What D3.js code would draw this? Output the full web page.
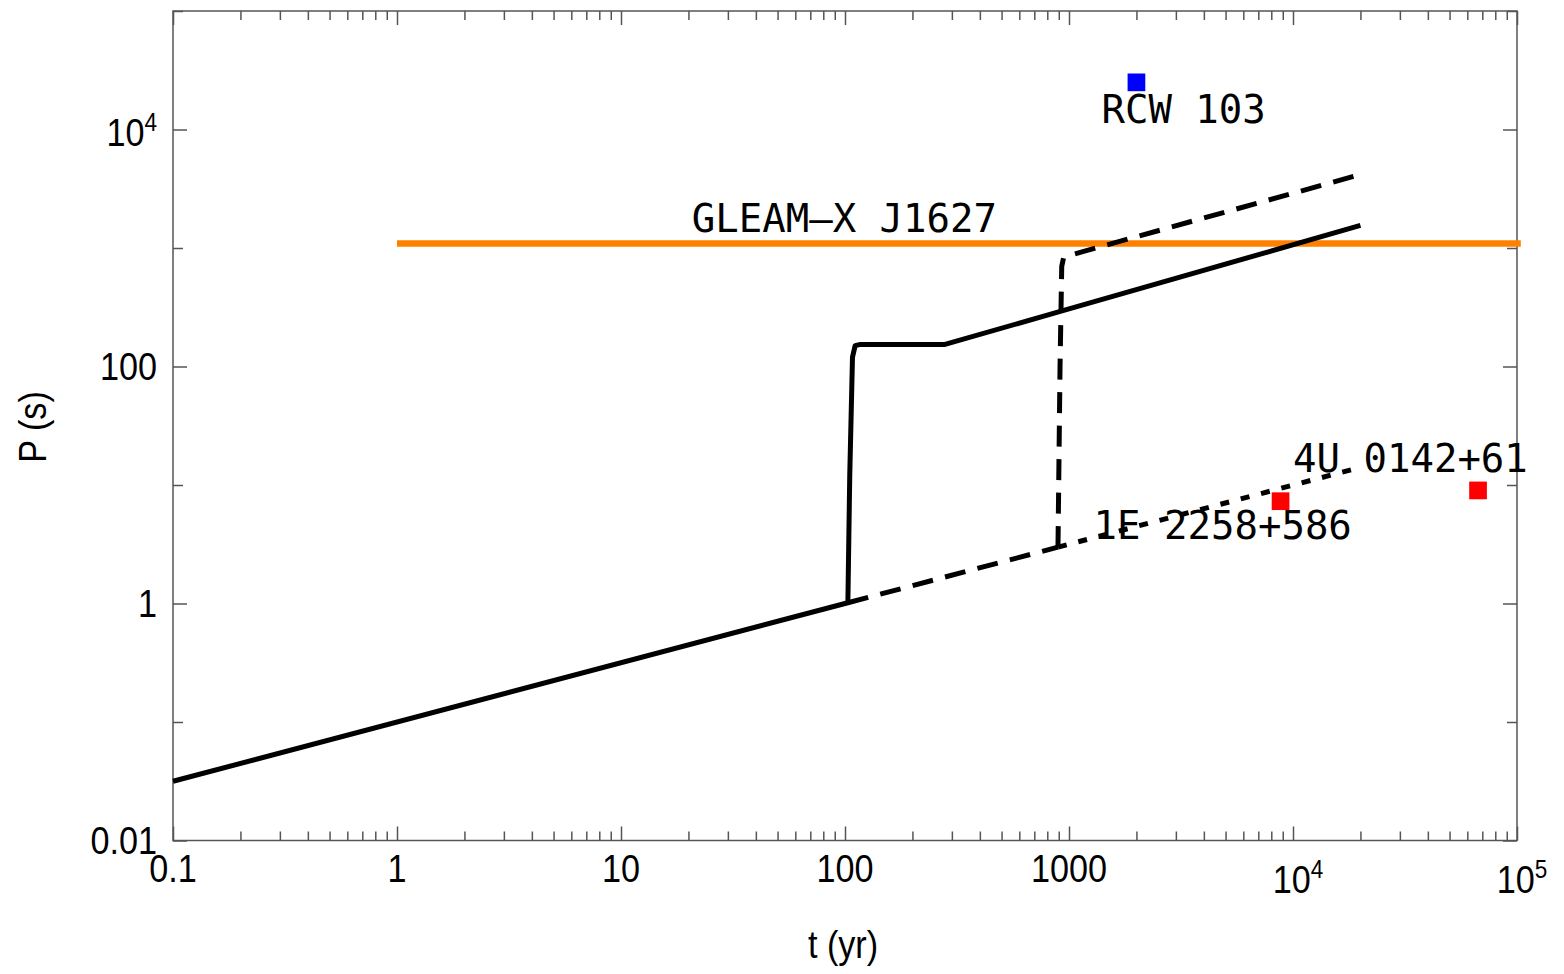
<!DOCTYPE html>
<html>
<head>
<meta charset="utf-8">
<script src="https://cdn.jsdelivr.net/npm/d3@7"></script>
<style>
  body { margin: 0; background: #fff; }
</style>
</head>
<body>
<svg id="chart" width="1564" height="974"></svg>
<script>
// Spin-period evolution tracks (t in yr, P in s)
const solidT = [0.1, 103, 105, 108, 111, 116, 277, 1000, 20000];
const solidP = [0.0316, 1.015, 12, 120, 150, 153, 153, 306, 1550];
const dashLowT = [103, 893];
const dashLowP = [1.015, 2.99];
const dashUpT = [893, 912, 928, 945, 1000, 20000];
const dashUpP = [2.99, 100, 700, 820, 865, 4170];
const dotT = [893, 20000];
const dotP = [2.99, 14.1];

// Observed long-period sources
const gleamName = "GLEAM\u2013X J1627";
const gleamT = [1, 104000];
const gleamP = 1091;
const srcNames = ["RCW 103", "1E 2258+586", "4U 0142+61"];
const srcT = [2000, 8800, 67000];
const srcP = [25000, 7.3, 9.0];
const srcColors = ["#0000ff", "#ff0000", "#ff0000"];

// Axis ticks
const xMajor = [0.1, 1, 10, 100, 1000, 1e4, 1e5];
const xLabels = [["0.1"], ["1"], ["10"], ["100"], ["1000"], ["10", "4"], ["10", "5"]];
const yMajor = [0.01, 1, 100, 1e4];
const yLabels = [["0.01"], ["1"], ["100"], ["10", "4"]];
const yMinor = [0.1, 10, 1000, 1e5];

const svg = d3.select("#chart");
const plotL = 173, plotR = 1517, plotT = 11, plotB = 840.5;

const x = d3.scaleLog().domain([0.1, 1e5]).range([plotL, plotR]);
const y = d3.scaleLog().domain([0.01, 1e5]).range([plotB, plotT]);

// minor x ticks at 2..9 of each decade
const xMinor = [];
for (let d = -1; d < 5; d++) for (let k = 2; k <= 9; k++) xMinor.push(k * Math.pow(10, d));

const axisColor = "#555";
function styleAxis(g) {
  g.select(".domain").remove();
  g.selectAll(".tick line").attr("stroke", axisColor).attr("stroke-width", 1.5);
  g.selectAll(".tick text").remove();
}

// ticks pointing inward on all four sides
svg.append("g").attr("transform", `translate(0,${plotB})`)
  .call(d3.axisBottom(x).tickValues(xMajor).tickSize(-14)).call(styleAxis);
svg.append("g").attr("transform", `translate(0,${plotB})`)
  .call(d3.axisBottom(x).tickValues(xMinor).tickSize(-9)).call(styleAxis);
svg.append("g").attr("transform", `translate(0,${plotT})`)
  .call(d3.axisTop(x).tickValues(xMajor).tickSize(-14)).call(styleAxis);
svg.append("g").attr("transform", `translate(0,${plotT})`)
  .call(d3.axisTop(x).tickValues(xMinor).tickSize(-9)).call(styleAxis);
svg.append("g").attr("transform", `translate(${plotL},0)`)
  .call(d3.axisLeft(y).tickValues(yMajor).tickSize(-14)).call(styleAxis);
svg.append("g").attr("transform", `translate(${plotL},0)`)
  .call(d3.axisLeft(y).tickValues(yMinor).tickSize(-10)).call(styleAxis);
svg.append("g").attr("transform", `translate(${plotR},0)`)
  .call(d3.axisRight(y).tickValues(yMajor).tickSize(-14)).call(styleAxis);
svg.append("g").attr("transform", `translate(${plotR},0)`)
  .call(d3.axisRight(y).tickValues(yMinor).tickSize(-10)).call(styleAxis);

// frame
svg.append("rect")
  .attr("x", plotL).attr("y", plotT)
  .attr("width", plotR - plotL).attr("height", plotB - plotT)
  .attr("fill", "none").attr("stroke", axisColor).attr("stroke-width", 1.5);

// tick labels (narrow sans, power labels with superscripts)
const tickFont = "'Liberation Sans', Arial, sans-serif";
function tickLabel(px, py, parts, anchor) {
  const g = svg.append("g").attr("transform", `translate(${px},${py}) scale(0.9,1)`);
  const t = g.append("text")
    .attr("font-family", tickFont).attr("font-size", 38).attr("fill", "#000")
    .attr("text-anchor", anchor);
  t.append("tspan").text(parts[0]);
  if (parts.length > 1) {
    t.append("tspan").attr("font-size", 25).attr("dy", -15).text(parts[1]);
  }
}
xMajor.forEach((v, i) => {
  const sup = xLabels[i].length > 1;
  tickLabel(x(v) + (sup ? 5 : 0), plotB + (sup ? 52 : 41), xLabels[i], "middle");
});
yMajor.forEach((v, i) => {
  const sup = yLabels[i].length > 1;
  tickLabel(157, y(v) + (sup ? 16 : 13), yLabels[i], "end");
});

// axis titles
svg.append("g").attr("transform", "translate(843,958) scale(0.9,1)")
  .append("text").attr("font-family", tickFont).attr("font-size", 38)
  .attr("text-anchor", "middle").text("t (yr)");
svg.append("g").attr("transform", "translate(46,427) rotate(-90) scale(0.9,1)")
  .append("text").attr("font-family", tickFont).attr("font-size", 38)
  .attr("text-anchor", "middle").text("P (s)");

const monoFont = "'DejaVu Sans Mono', monospace";

// GLEAM-X J1627 period
svg.append("line")
  .attr("x1", x(gleamT[0])).attr("x2", x(gleamT[1]))
  .attr("y1", y(gleamP)).attr("y2", y(gleamP))
  .attr("stroke", "#ff8000").attr("stroke-width", 6.5);
svg.append("text")
  .attr("x", x(20.7)).attr("y", y(gleamP) - 12)
  .attr("font-family", monoFont).attr("font-size", 39).attr("fill", "#000")
  .text(gleamName);

// source labels
const labelOffsets = [[-35, 41], [-187, 38], [-185, -18]];
srcNames.forEach((n, i) => {
  svg.append("text")
    .attr("x", x(srcT[i]) + labelOffsets[i][0])
    .attr("y", y(srcP[i]) + labelOffsets[i][1])
    .attr("font-family", monoFont).attr("font-size", 39).attr("fill", "#000")
    .text(n);
});

// evolution tracks
const line = d3.line().x(d => x(d[0])).y(d => y(d[1]));
function track(ts, ps, dash) {
  svg.append("path")
    .datum(ts.map((t, i) => [t, ps[i]]))
    .attr("d", line)
    .attr("fill", "none").attr("stroke", "#000").attr("stroke-width", 5)
    .attr("stroke-linejoin", "round")
    .attr("stroke-dasharray", dash);
}
track(solidT, solidP, null);
track(dashLowT, dashLowP, "21,12.5");
track(dashUpT, dashUpP, "21,12.5");
track(dotT, dotP, "9,12");

// source markers
const sq = 17.7;
srcNames.forEach((n, i) => {
  svg.append("rect")
    .attr("x", x(srcT[i]) - sq / 2).attr("y", y(srcP[i]) - sq / 2)
    .attr("width", sq).attr("height", sq)
    .attr("fill", srcColors[i]);
});
</script>
</body>
</html>
